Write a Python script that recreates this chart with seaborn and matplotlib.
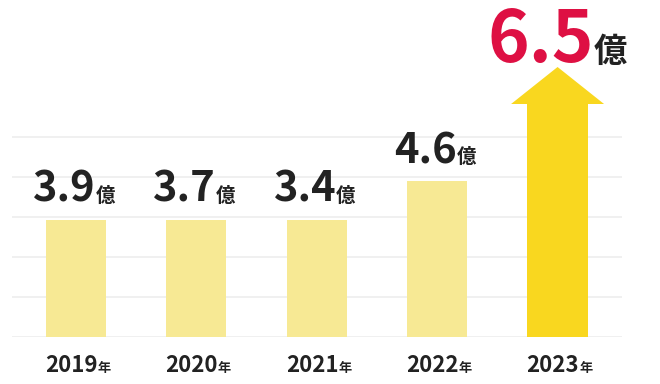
import numpy as np
import pandas as pd
import seaborn as sns
import matplotlib
matplotlib.use("Agg")
import matplotlib.pyplot as plt
from matplotlib.patches import Polygon
from matplotlib.transforms import offset_copy

# ---- data ----
years = ["2019", "2020", "2021", "2022", "2023"]
values = [3.9, 3.7, 3.4, 4.6, 6.5]            # label values (億)
bar_heights = [2.925, 2.925, 2.925, 3.9, 5.825]  # drawn heights (grid units)
arrow_tip = 6.75                              # tip of the 2023 arrow (grid units)
unit_label = "億"
year_suffix = "年"

LIGHT = "#F7E994"
STRONG = "#F9D71F"
RED = "#DE1043"
DARK = "#222222"

sns.set_theme(style="white")
plt.rcParams["font.family"] = ["Noto Sans CJK JP", "DejaVu Sans"]

fig = plt.figure(figsize=(6.6, 3.84), dpi=100)
ax = fig.add_axes([12 / 660, 47 / 384, 610 / 660, 337 / 384])

df = pd.DataFrame({"year": years, "h": bar_heights})
colors = [LIGHT] * (len(years) - 1) + [STRONG]
sns.barplot(data=df, x="year", y="h", hue="year", palette=colors,
            width=0.5, saturation=1, legend=False, ax=ax, linewidth=0)

ax.set_xlim(-0.53, 4.535)
ax.set_ylim(0, 8.425)
ax.set_yticks(range(0, 6))
ax.yaxis.grid(True, color="#EEEEEE", linewidth=1.2)
ax.xaxis.grid(False)
ax.set_axisbelow(True)
ax.set_xticklabels([])
ax.set_yticklabels([])
ax.tick_params(length=0)
ax.set_xlabel("")
ax.set_ylabel("")
for s in ax.spines.values():
    s.set_visible(False)

# arrow head on the last bar
last = ax.patches[len(years) - 1]
cx = last.get_x() + last.get_width() / 2
top = last.get_height()
half = 0.386
ax.add_patch(Polygon([(cx - half, top), (cx + half, top), (cx, arrow_tip)],
                     closed=True, facecolor=STRONG, edgecolor="none", zorder=3))

pairs = []


def composite(x, y, big, small, bs, ss, bc, sc, dy, gap=1, shift=0):
    t1 = ax.text(x, y, big, fontsize=bs, fontweight="bold", color=bc,
                 ha="left", va="baseline", clip_on=False,
                 transform=offset_copy(ax.transData, fig=fig, x=0, y=dy, units="dots"))
    t2 = ax.text(x, y, small, fontsize=ss, fontweight="bold", color=sc,
                 ha="left", va="baseline", clip_on=False,
                 transform=offset_copy(ax.transData, fig=fig, x=0, y=dy, units="dots"))
    pairs.append((t1, t2, dy, gap, shift))


for i, (v, h) in enumerate(zip(values, bar_heights)):
    p = ax.patches[i]
    xc = p.get_x() + p.get_width() / 2
    if i == len(years) - 1:
        composite(xc, arrow_tip, f"{v:.1f}", unit_label, 51, 24, RED, DARK, 5, gap=0)
    else:
        composite(xc, p.get_height(), f"{v:.1f}", unit_label, 30, 14, DARK, DARK, 18, gap=0, shift=-2)
    composite(xc, 0, years[i], year_suffix, 16, 9.5, DARK, DARK, -35, gap=0, shift=2)

fig.canvas.draw()
r = fig.canvas.get_renderer()
for t1, t2, dy, gap, shift in pairs:
    w1 = t1.get_window_extent(r).width
    w2 = t2.get_window_extent(r).width
    start = -(w1 + w2 + gap) / 2 + shift
    t1.set_transform(offset_copy(ax.transData, fig=fig, x=start, y=dy, units="dots"))
    t2.set_transform(offset_copy(ax.transData, fig=fig, x=start + w1 + gap, y=dy, units="dots"))

fig.savefig("out.png", dpi=100)
